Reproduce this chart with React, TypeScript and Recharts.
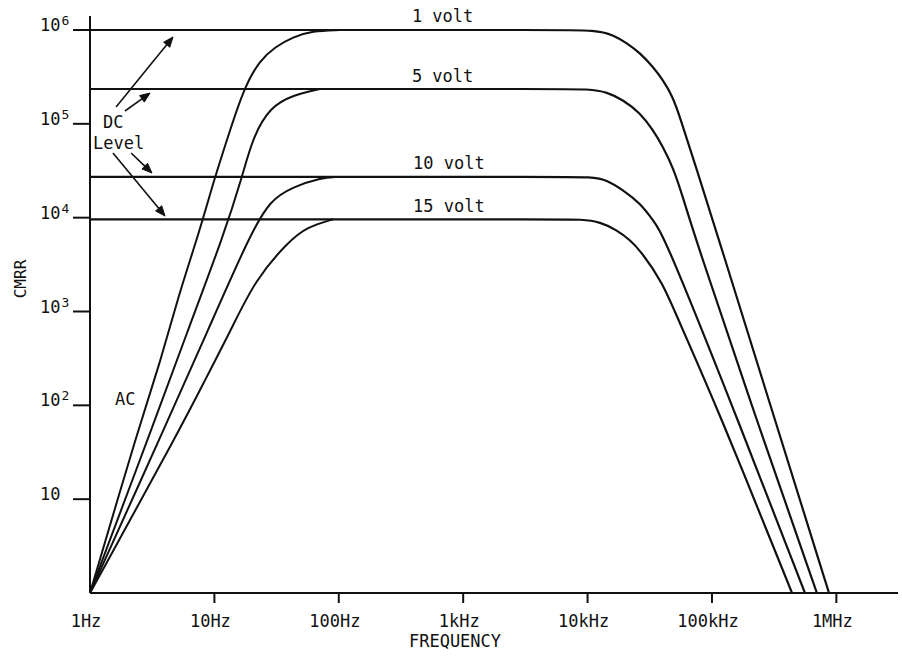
import { LineChart, Line, XAxis, YAxis, ReferenceLine, ReferenceDot, Label } from 'recharts';

const FONT = '"DejaVu Sans Mono", "Liberation Mono", monospace';
const INK = '#111';

type Pt = [number, number];

const freqTicks = [1, 10, 100, 1000, 10000, 100000, 1000000];
const freqLabels = ['1Hz', '10Hz', '100Hz', '1kHz', '10kHz', '100kHz', '1MHz'];
const cmrrTicks = [10, 100, 1000, 10000, 100000, 1000000];
const cmrrExponents = ['', '2', '3', '4', '5', '6'];

// DC level: flat plateau, then the high frequency roll-off
const dc1V: Pt[] = [[1, 1e6], [100, 1e6], [5000, 1e6], [11900, 1e6], [16000, 8.85e5], [20700, 7.27e5], [26400, 5.69e5], [33600, 4.04e5], [40400, 2.93e5], [48500, 1.93e5], [55300, 1.18e5], [75700, 3.22e4], [112000, 6220], [340000, 54.6], [873000, 1]];
const dc5V: Pt[] = [[1, 2.35e5], [100, 2.35e5], [5000, 2.35e5], [10450, 2.35e5], [14300, 2.18e5], [19300, 1.8e5], [26400, 1.31e5], [33600, 8.6e4], [40400, 5.67e4], [48500, 3.47e4], [58400, 1.66e4], [72900, 6220], [243000, 54.6], [698000, 1]];
const dc10V: Pt[] = [[1, 2.72e4], [100, 2.72e4], [5000, 2.72e4], [11050, 2.72e4], [14300, 2.52e4], [19300, 1.97e4], [26400, 1.43e4], [33600, 9440], [41900, 6220], [174000, 54.6], [559000, 1]];
const dc15V: Pt[] = [[1, 9600], [100, 9600], [5000, 9600], [9180, 9600], [12600, 9000], [17200, 7390], [21900, 5780], [26400, 4530], [40400, 2010], [52300, 874], [110000, 96], [440000, 1]];

// AC: rising from 1Hz up to the plateau
const ac1V: Pt[] = [[1, 1], [2.57, 69.8], [3.66, 283], [5.1, 1430], [7.66, 7400], [10.1, 2.72e4], [11.7, 4.89e4], [17, 2.35e5], [23.3, 4.8e5], [30.7, 6.59e5], [42.9, 8.43e5], [60.9, 9.77e5], [102, 1e6]];
const ac5V: Pt[] = [[1, 1], [3.33, 69.8], [6.13, 635], [11.9, 6540], [16.7, 2.72e4], [20.4, 7.24e4], [28, 1.51e5], [42.9, 2.03e5], [70.6, 2.35e5]];
const ac10V: Pt[] = [[1, 1], [4.24, 69.8], [8.89, 635], [19.3, 6540], [28, 1.54e4], [42.9, 2.12e4], [70.6, 2.65e4], [100, 2.72e4]];
const ac15V: Pt[] = [[1, 1], [5.8, 69.8], [8.4, 186], [13.6, 635], [21.2, 2170], [39.1, 5510], [55.5, 7960], [89.8, 9600]];

const series = [dc1V, dc5V, dc10V, dc15V, ac1V, ac5V, ac10V, ac15V];

// text notes, anchored (left, baseline) in data units
const voltLabels = ['1 volt', '5 volt', '10 volt', '15 volt'];
const voltAnchors: Pt[] = [[387, 1.22e6], [387, 2.79e5], [395, 3.3e4], [395, 1.15e4]];
const sideLabels = ['DC', 'Level', 'AC'];
const sideAnchors: Pt[] = [[1.27, 9.03e4], [1.057, 5.4e4], [1.59, 101]];

// "DC Level" pointer arrows: [from, to]
const dcArrows: [Pt, Pt][] = [
  [[1.62, 1.51e5], [4.65, 8.43e5]],
  [[1.91, 1.37e5], [3.04, 2.13e5]],
  [[2.14, 4.89e4], [3.15, 2.99e4]],
  [[1.53, 4.89e4], [4.01, 1.04e4]],
];

const toRows = (pts: Pt[]) => pts.map(([f, v]) => ({ f, v }));

const FreqTick = (props: any) => {
  const { x, y, payload, index } = props;
  return (
    <g>
      {payload.value > 1 && <line x1={x} y1={y - 10} x2={x} y2={y} stroke={INK} strokeWidth={2} />}
      <text x={x - 4} y={y + 24} textAnchor="middle" fontFamily={FONT} fontSize={17} fill={INK}>
        {freqLabels[index] ?? ''}
      </text>
    </g>
  );
};

const CmrrTick = (props: any) => {
  const { x, y, payload } = props;
  const exp = cmrrExponents[cmrrTicks.indexOf(payload.value)];
  return (
    <text x={x - 33} y={y + 1} fontFamily={FONT} fontSize={17} fill={INK}>
      10
      {exp && (
        <tspan dx={1} dy={-6} fontSize={13}>
          {exp}
        </tspan>
      )}
    </text>
  );
};

const Arrow = (p: any) => {
  const { x1, y1, x2, y2 } = p;
  const a = Math.atan2(y2 - y1, x2 - x1);
  const len = 10;
  const half = 4;
  const bx = x2 - len * Math.cos(a);
  const by = y2 - len * Math.sin(a);
  const pts = [
    [x2, y2],
    [bx + half * Math.sin(a), by - half * Math.cos(a)],
    [bx - half * Math.sin(a), by + half * Math.cos(a)],
  ]
    .map((q) => q.join(','))
    .join(' ');
  return (
    <g>
      <line x1={x1} y1={y1} x2={bx} y2={by} stroke={INK} strokeWidth={1.6} />
      <polygon points={pts} fill={INK} stroke={INK} strokeWidth={1} />
    </g>
  );
};

const noteShape = (text: string) => (p: any) => (
  <text x={p.cx} y={p.cy} fontFamily={FONT} fontSize={17} fill={INK}>
    {text}
  </text>
);

export default function App() {
  return (
    <div style={{ position: 'absolute', left: 0, top: 0, background: '#fff' }}>
      <LineChart width={902} height={662} margin={{ top: 16, right: 4, left: 20, bottom: 29 }}>
        <XAxis
          dataKey="f"
          type="number"
          scale="log"
          domain={[1, 3.13e6]}
          allowDataOverflow
          ticks={freqTicks}
          interval={0}
          height={40}
          tickSize={10}
          tickMargin={0}
          tickLine={false}
          axisLine={{ stroke: INK, strokeWidth: 2 }}
          tick={<FreqTick />}
        >
          <Label
            content={({ viewBox }: any) => (
              <text x={viewBox.x + 365} y={viewBox.y + 54} textAnchor="middle" fontFamily={FONT} fontSize={17} fill={INK}>
                FREQUENCY
              </text>
            )}
          />
        </XAxis>
        <YAxis
          type="number"
          scale="log"
          domain={[1, 1.41e6]}
          allowDataOverflow
          ticks={cmrrTicks}
          interval={0}
          width={70}
          tickSize={17}
          tickMargin={0}
          tickLine={{ stroke: INK, strokeWidth: 2 }}
          axisLine={{ stroke: INK, strokeWidth: 2 }}
          tick={<CmrrTick />}
        >
          <Label
            content={({ viewBox }: any) => (
              <text
                x={viewBox.x + 6}
                y={viewBox.y + 263}
                transform={`rotate(-90, ${viewBox.x + 6}, ${viewBox.y + 263})`}
                textAnchor="middle"
                fontFamily={FONT}
                fontSize={16}
                fill={INK}
              >
                CMRR
              </text>
            )}
          />
        </YAxis>
        {series.map((pts, i) => (
          <Line
            key={i}
            data={toRows(pts)}
            dataKey="v"
            type="basis"
            stroke={INK}
            strokeWidth={i < 4 ? 2.2 : 2}
            dot={false}
            activeDot={false}
            isAnimationActive={false}
          />
        ))}
        {dcArrows.map(([a, b], i) => (
          <ReferenceLine
            key={`arrow-${i}`}
            segment={[{ x: a[0], y: a[1] }, { x: b[0], y: b[1] }]}
            ifOverflow="visible"
            shape={Arrow}
          />
        ))}
        {voltLabels.map((t, i) => (
          <ReferenceDot key={`v-${i}`} x={voltAnchors[i][0]} y={voltAnchors[i][1]} r={0} ifOverflow="visible" shape={noteShape(t)} />
        ))}
        {sideLabels.map((t, i) => (
          <ReferenceDot key={`s-${i}`} x={sideAnchors[i][0]} y={sideAnchors[i][1]} r={0} ifOverflow="visible" shape={noteShape(t)} />
        ))}
      </LineChart>
    </div>
  );
}
